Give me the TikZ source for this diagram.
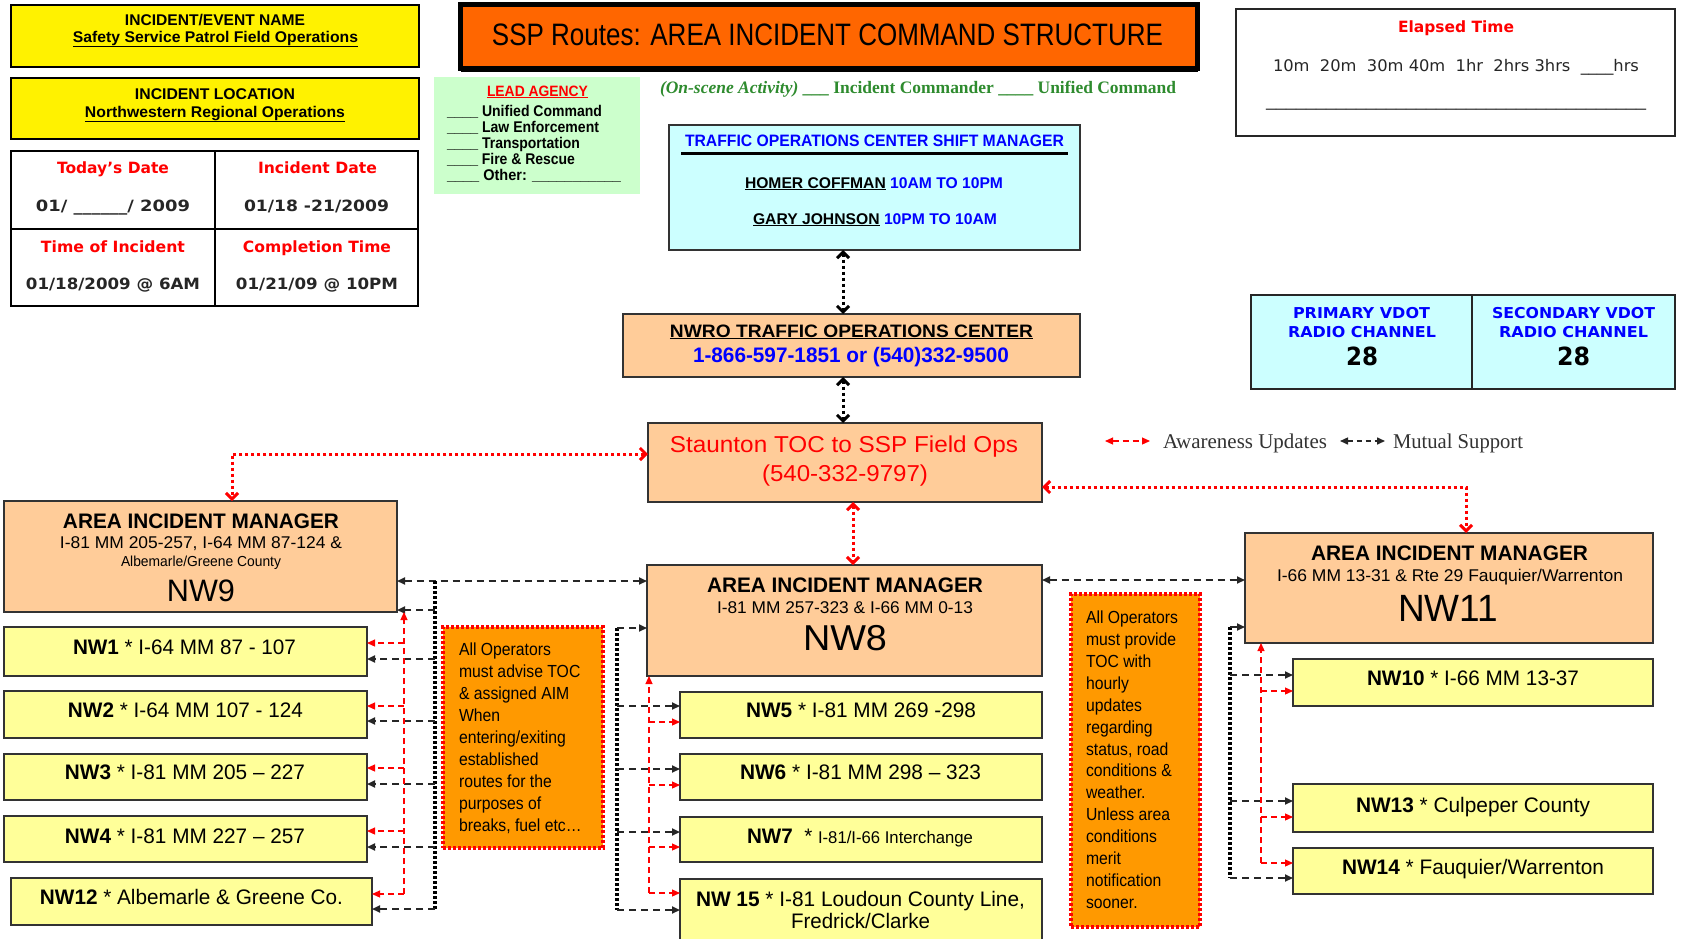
\documentclass[tikz,border=0pt]{standalone}
\usepackage{fontspec}
\usepackage{graphicx}
\setmainfont{Liberation Sans}
\newfontfamily\dvfont{DejaVu Sans}
\newfontfamily\tmsfont{Liberation Serif}
\newfontfamily\narrowfont[FakeStretch=0.9]{Liberation Sans}
\usetikzlibrary{arrows.meta}
\newcommand\fsz[1]{\fontsize{#1}{#1}\selectfont}
\newcommand\fw[2]{\resizebox{#1pt}{\height}{#2}}
\newcommand\nwlabel[6]{\node[lbl] (#1) at (#2,#3) {\fsz{21}\fw{#4}{\textbf{#5} #6}};}
\newcommand\noteline[4]{\node[notetxt] (#1) at (#2,#3) {#4};}
\definecolor{peach}{HTML}{FFCC99}
\definecolor{lyellow}{HTML}{FFFF99}
\definecolor{cyanbox}{HTML}{CCFFFF}
\definecolor{lgreen}{HTML}{CCFFCC}
\definecolor{titleor}{HTML}{FF6600}
\definecolor{noteor}{HTML}{FF9900}
\definecolor{dgreen}{HTML}{2E8B2E}
\definecolor{bgray}{HTML}{333333}
\begin{document}
\begin{tikzpicture}[x=1pt,y=-1pt,
  bx/.style={draw=bgray, line width=1.5pt, inner sep=0pt, outer sep=0pt, rectangle},
  lbl/.style={inner sep=0pt, outer sep=0pt, anchor=base},
  lblw/.style={inner sep=0pt, outer sep=0pt, anchor=base west},
  mline/.style={draw=black!85, line width=1.8pt, dash pattern=on 7pt off 5pt},
  aline/.style={draw=red, line width=1.2pt, dash pattern=on 6pt off 4pt},
  tri/.style={-{Triangle[length=8pt,width=7pt]}},
  tri2/.style={{Triangle[length=8pt,width=7pt]}-{Triangle[length=8pt,width=7pt]}},
  spine/.style={draw=black, line width=4pt, dash pattern=on 3pt off 2pt},
  reddot/.style={draw=red, line width=3pt, dash pattern=on 3pt off 3pt, {Straight Barb[length=6pt,width=12pt]}-{Straight Barb[length=6pt,width=12pt]}},
  blkdot/.style={draw=black, line width=3pt, dash pattern=on 3pt off 3pt, {Straight Barb[length=6pt,width=12pt]}-{Straight Barb[length=6pt,width=12pt]}},
  notebox/.style={draw=red, line width=4pt, dash pattern=on 3pt off 2pt, fill=noteor, inner sep=0pt, outer sep=0pt, rectangle},
  notetxt/.style={inner sep=0pt, outer sep=0pt, anchor=base west, font=\narrowfont\fsz{17.5}}
]
\useasboundingbox (0,0) rectangle (1681,938);
\fill[white] (0,0) rectangle (1681,938);

% ---------- top-left info ----------
\node[bx, draw=black, line width=2pt, fill=yellow, minimum width=408, minimum height=62] (evname) at (214.5,36) {};
\node[bx, draw=black, line width=2pt, fill=yellow, minimum width=408, minimum height=61] (evloc) at (214.5,108.7) {};
\node[bx, draw=black, line width=2pt, fill=white, minimum width=407, minimum height=155] (datetab) at (214.5,228.5) {};
\draw[line width=2pt] (datetab.north -| 215,0) -- (datetab.south -| 215,0);
\draw[line width=2pt] (datetab.west |- 0,229) -- (datetab.east |- 0,229);

\node[lbl] (t1) at (215,25) {\fsz{15.5}\bfseries\fw{180}{INCIDENT/EVENT NAME}};
\node[lbl] (t2) at (215.5,42) {\fsz{15.5}\bfseries\fw{285}{\underline{Safety Service Patrol Field Operations}}};
\node[lbl] (t3) at (215,99) {\fsz{15.5}\bfseries\fw{160}{INCIDENT LOCATION}};
\node[lbl] (t4) at (215,117) {\fsz{15.5}\bfseries\fw{260}{\underline{Northwestern Regional Operations}}};

\node[lbl,text=red] (d1) at (113,173) {\dvfont\fsz{15.5}\bfseries\fw{112}{Today’s Date}};
\node[lbl,text=red] (d2) at (317.5,173) {\dvfont\fsz{15.5}\bfseries\fw{119}{Incident Date}};
\node[lbl,text=black!85] (d3) at (113,211) {\dvfont\fsz{15.5}\bfseries\fw{154}{01/ \_\_\_\_\_\_/ 2009}};
\node[lbl,text=black!85] (d4) at (316.5,211) {\dvfont\fsz{15.5}\bfseries\fw{145}{01/18 -21/2009}};
\node[lbl,text=red] (d5) at (113,252) {\dvfont\fsz{15.5}\bfseries\fw{144}{Time of Incident}};
\node[lbl,text=red] (d6) at (317,252) {\dvfont\fsz{15.5}\bfseries\fw{148}{Completion Time}};
\node[lbl,text=black!85] (d7) at (113,289) {\dvfont\fsz{15.5}\bfseries\fw{174}{01/18/2009 @ 6AM}};
\node[lbl,text=black!85] (d8) at (317,289) {\dvfont\fsz{15.5}\bfseries\fw{162}{01/21/09 @ 10PM}};

% ---------- title ----------
\node[bx, draw=black, line width=5pt, fill=titleor, minimum width=737, minimum height=64] (title) at (829,36.5) {};
\draw[line width=3pt] (title.south west) ++(0,2) -- ([yshift=-2pt]title.south east);
\node[lbl] (titletxt) at (827.5,45.5) {\fsz{31}\fw{671}{SSP Routes: AREA INCIDENT COMMAND STRUCTURE}};

% ---------- lead agency ----------
\node[rectangle, fill=lgreen, inner sep=0pt, outer sep=0pt, minimum width=206, minimum height=117] (lead) at (537,135.5) {};
\node[lbl,text=red] (la0) at (537.5,96) {\fsz{15}\bfseries\fw{101}{\underline{LEAD AGENCY}}};
\node[lblw] (la1) at (447,116) {\fsz{15.5}\bfseries\fw{155}{\_\_\_\_ Unified Command}};
\node[lblw] (la2) at (447,132) {\fsz{15.5}\bfseries\fw{152}{\_\_\_\_ Law Enforcement}};
\node[lblw] (la3) at (447,148) {\fsz{15.5}\bfseries\fw{133}{\_\_\_\_ Transportation}};
\node[lblw] (la4) at (447,164) {\fsz{15.5}\bfseries\fw{128}{\_\_\_\_ Fire \& Rescue}};
\node[lblw] (la5) at (447,180) {\fsz{15.5}\bfseries\fw{174}{\_\_\_\_ Other: \_\_\_\_\_\_\_\_\_\_\_}};

\node[lblw,text=dgreen] (onscene) at (660,93) {\tmsfont\fsz{17.5}\bfseries\fw{516}{{\itshape (On-scene Activity)} \_\_\_ Incident Commander \_\_\_\_ Unified Command}};

% ---------- TOC shift manager ----------
\node[bx, fill=cyanbox, minimum width=411, minimum height=125] (tocsm) at (874.5,187.5) {};
\node[lbl,text=blue] (ts0) at (874.5,146) {\fsz{16.5}\bfseries\fw{379}{TRAFFIC OPERATIONS CENTER SHIFT MANAGER}};
\draw[line width=2.2pt] (681,153.5) -- (1068,153.5);
\node[lbl] (ts1) at (874,188) {\fsz{15.5}\bfseries\fw{258}{\underline{HOMER COFFMAN} \textcolor{blue}{10AM TO 10PM}}};
\node[lbl] (ts2) at (875,224) {\fsz{15.5}\bfseries\fw{244}{\underline{GARY JOHNSON} \textcolor{blue}{10PM TO 10AM}}};

% ---------- NWRO ----------
\node[bx, fill=peach, minimum width=457, minimum height=63] (nwro) at (851.5,345.5) {};
\node[lbl] (nr1) at (851.5,337) {\fsz{18}\bfseries\fw{363}{\underline{NWRO TRAFFIC OPERATIONS CENTER}}};
\node[lbl,text=blue] (nr2) at (851,362) {\fsz{21}\bfseries\fw{316}{1-866-597-1851 or (540)332-9500}};

% ---------- Staunton ----------
\node[bx, fill=peach, minimum width=394, minimum height=79] (staunton) at (845,462.5) {};
\node[lbl,text=red] (st1) at (844,452) {\fsz{23}\fw{348}{Staunton TOC to SSP Field Ops}};
\node[lbl,text=red] (st2) at (845,481) {\fsz{23}\fw{166}{(540-332-9797)}};

% ---------- elapsed time ----------
\node[bx, draw=black!85, fill=white, minimum width=439, minimum height=127] (elapsed) at (1455.5,72.5) {};
\node[lbl,text=red] (el0) at (1456,32.5) {\dvfont\fsz{15.5}\bfseries\fw{116}{Elapsed Time}};
\node[lbl,text=black!85] (el1) at (1456,71.5) {\dvfont\fsz{16}\fw{366}{10m\ \ 20m\ \ 30m 40m\ \ 1hr\ \ 2hrs 3hrs\ \ \_\_\_\_hrs}};
\node[lbl,text=black!85] (el2) at (1456,106) {\dvfont\fsz{16}\fw{380}{\strut\_\_\_\_\_\_\_\_\_\_\_\_\_\_\_\_\_\_\_\_\_\_\_\_\_\_\_\_\_\_\_\_\_\_\_\_\_\_}};

% ---------- radio ----------
\node[bx, draw=black!85, fill=cyanbox, minimum width=221, minimum height=94] (radio1) at (1361.5,342) {};
\node[bx, draw=black!85, fill=cyanbox, minimum width=203, minimum height=94] (radio2) at (1573.5,342) {};
\node[lbl,text=blue] (r1) at (1361.5,318) {\dvfont\fsz{15}\bfseries\fw{137}{PRIMARY VDOT}};
\node[lbl,text=blue] (r2) at (1362,337) {\dvfont\fsz{15}\bfseries\fw{148}{RADIO CHANNEL}};
\node[lbl] (r3) at (1362,365) {\dvfont\fsz{25}\bfseries\fw{32}{28}};
\node[lbl,text=blue] (r4) at (1573.5,318) {\dvfont\fsz{15}\bfseries\fw{163}{SECONDARY VDOT}};
\node[lbl,text=blue] (r5) at (1573.5,337) {\dvfont\fsz{15}\bfseries\fw{149}{RADIO CHANNEL}};
\node[lbl] (r6) at (1573.5,365) {\dvfont\fsz{25}\bfseries\fw{33}{28}};

% ---------- legend ----------
\coordinate (lg1) at (1105,441); \coordinate (lg2) at (1150,441);
\coordinate (lg3) at (1340,441); \coordinate (lg4) at (1385,441);
\draw[aline,tri2] (lg1) -- (lg2);
\draw[mline,line width=1.5pt,dash pattern=on 5pt off 4pt,tri2] (lg3) -- (lg4);
\node[lblw,text=black!80] (lgA) at (1163,448) {\tmsfont\fsz{21}\fw{164}{Awareness Updates}};
\node[lblw,text=black!80] (lgB) at (1393,448) {\tmsfont\fsz{21}\fw{130}{Mutual Support}};

% ---------- NW9 group ----------
\node[bx, fill=peach, minimum width=393, minimum height=111] (nw9) at (200.5,556.5) {};
\node[lbl] (a9a) at (201,528) {\fsz{21}\bfseries\fw{276}{AREA INCIDENT MANAGER}};
\node[lbl] (a9b) at (201,548) {\fsz{17}\fw{282}{I-81 MM 205-257, I-64 MM 87-124 \&}};
\node[lbl] (a9c) at (201,566) {\fsz{14.5}\fw{160}{Albemarle/Greene County}};
\node[lbl] (a9d) at (201,601) {\fsz{31}\fw{68}{NW9}};

\node[bx, fill=lyellow, minimum width=363, minimum height=49] (nw1) at (185.5,651.5) {};
\node[bx, fill=lyellow, minimum width=363, minimum height=47] (nw2) at (185.5,714.5) {};
\node[bx, fill=lyellow, minimum width=363, minimum height=46] (nw3) at (185.5,777) {};
\node[bx, fill=lyellow, minimum width=363, minimum height=46] (nw4) at (185.5,839) {};
\node[bx, fill=lyellow, minimum width=361, minimum height=47] (nw12) at (191.5,901.5) {};
\nwlabel{l1}{184.5}{654}{223}{NW1}{* I-64 MM 87 - 107}
\nwlabel{l2}{185.5}{717}{235}{NW2}{* I-64 MM 107 - 124}
\nwlabel{l3}{185}{779}{240}{NW3}{* I-81 MM 205 – 227}
\nwlabel{l4}{185}{843}{240}{NW4}{* I-81 MM 227 – 257}
\nwlabel{l12}{191.5}{904}{303}{NW12}{* Albemarle \& Greene Co.}

% ---------- NW8 group ----------
\node[bx, fill=peach, minimum width=395, minimum height=111] (nw8) at (844.5,620.5) {};
\node[lbl] (a8a) at (845,592) {\fsz{21}\bfseries\fw{276}{AREA INCIDENT MANAGER}};
\node[lbl] (a8b) at (845,613) {\fsz{17}\fw{256}{I-81 MM 257-323 \& I-66 MM 0-13}};
\node[lbl] (a8d) at (845,650) {\fsz{36}\fw{84}{NW8}};

\node[bx, fill=lyellow, minimum width=362, minimum height=46] (nw5) at (861,715) {};
\node[bx, fill=lyellow, minimum width=362, minimum height=46] (nw6) at (861,777) {};
\node[bx, fill=lyellow, minimum width=362, minimum height=45] (nw7) at (861,839.5) {};
\node[bx, fill=lyellow, minimum width=362, minimum height=71] (nw15) at (861,914.5) {};
\nwlabel{l5}{861}{717}{230}{NW5}{* I-81 MM 269 -298}
\nwlabel{l6}{860.5}{779}{241}{NW6}{* I-81 MM 298 – 323}
\nwlabel{l7}{860}{843}{226}{NW7}{\ * {\fsz{17}I-81/I-66 Interchange}}
\nwlabel{l15}{860.5}{906}{329}{NW 15}{* I-81 Loudoun County Line,}
\node[lbl] (l15b) at (860.5,928) {\fsz{21}\fw{139}{Fredrick/Clarke}};

% ---------- NW11 group ----------
\node[bx, fill=peach, minimum width=408, minimum height=110] (nw11) at (1449,588) {};
\node[lbl] (a11a) at (1449.5,560) {\fsz{21}\bfseries\fw{277}{AREA INCIDENT MANAGER}};
\node[lbl] (a11b) at (1450,581) {\fsz{17}\fw{346}{I-66 MM 13-31 \& Rte 29 Fauquier/Warrenton}};
\node[lbl] (a11d) at (1448,621) {\fsz{38}\fw{100}{NW11}};

\node[bx, fill=lyellow, minimum width=360, minimum height=47] (nw10) at (1473,682.5) {};
\node[bx, fill=lyellow, minimum width=360, minimum height=48] (nw13) at (1473,808) {};
\node[bx, fill=lyellow, minimum width=360, minimum height=46] (nw14) at (1473,871) {};
\nwlabel{l10}{1473}{685}{212}{NW10}{* I-66 MM 13-37}
\nwlabel{l13}{1473}{812}{234}{NW13}{* Culpeper County}
\nwlabel{l14}{1473}{874}{262}{NW14}{* Fauquier/Warrenton}

% ---------- notes ----------
\node[notebox, minimum width=160, minimum height=221] (noteL) at (523,737.5) {};
\noteline{nl1}{459}{655}{All Operators}
\noteline{nl2}{459}{677.1}{must advise TOC}
\noteline{nl3}{459}{699.2}{\& assigned AIM}
\noteline{nl4}{459}{721.3}{When}
\noteline{nl5}{459}{743.4}{entering/exiting}
\noteline{nl6}{459}{765.5}{established}
\noteline{nl7}{459}{787.6}{routes for the}
\noteline{nl8}{459}{809.7}{purposes of}
\noteline{nl9}{459}{831.8}{breaks, fuel etc\ldots}

\node[notebox, minimum width=129, minimum height=333] (noteR) at (1135.5,760.5) {};
\noteline{nr1}{1086}{623}{All Operators}
\noteline{nr2}{1086}{645}{must provide}
\noteline{nr3}{1086}{667}{TOC with}
\noteline{nr4}{1086}{689}{hourly}
\noteline{nr5}{1086}{711}{updates}
\noteline{nr6}{1086}{733}{regarding}
\noteline{nr7}{1086}{755}{status, road}
\noteline{nr8}{1086}{776.8}{conditions \&}
\noteline{nr9}{1086}{798.8}{weather.}
\noteline{nr10}{1086}{820.7}{Unless area}
\noteline{nr11}{1086}{842.6}{conditions}
\noteline{nr12}{1086}{864.6}{merit}
\noteline{nr13}{1086}{886.6}{notification}
\noteline{nr14}{1086}{908.6}{sooner.}

% ---------- dotted command links ----------
\draw[blkdot] ([xshift=-31.5pt]tocsm.south) -- ([xshift=-8.5pt]nwro.north);
\draw[blkdot] ([xshift=-8.5pt]nwro.south) -- ([xshift=-2pt]staunton.north);
\draw[reddot] ([yshift=8.5pt]staunton.west) -| ([xshift=31.5pt]nw9.north);
\draw[reddot] ([yshift=-24.5pt]staunton.east) -| ([xshift=17pt]nw11.north);
\draw[reddot] ([xshift=8pt]staunton.south) -- ([xshift=8.5pt]nw8.north);

% ---------- manager to manager ----------
\coordinate (ls1) at (435,581); \coordinate (ls2) at (435,909);
\draw[mline,tri2] (nw9.east |- ls1) -- (nw8.west |- ls1);
\draw[mline,tri2] (nw8.east |- 0,580) -- (nw11.west |- 0,580);

% ---------- left group links ----------
\draw[spine] (ls1) -- (ls2);
\draw[mline,tri] (ls1 |- 0,610) -- (nw9.east |- 0,610);
\draw[mline,tri] (ls1 |- 0,659) -- (nw1.east |- 0,659);
\draw[mline,tri] (ls1 |- 0,721) -- (nw2.east |- 0,721);
\draw[mline,tri] (ls1 |- 0,784) -- (nw3.east |- 0,784);
\draw[mline,tri] (ls1 |- 0,847) -- (nw4.east |- 0,847);
\draw[mline,tri] (ls1 |- 0,909) -- (nw12.east |- 0,909);
\coordinate (lr1) at (404,894);
\draw[aline,tri] (lr1) -- ([xshift=7pt]nw9.south east);
\draw[aline,tri] (lr1 |- 0,643) -- (nw1.east |- 0,643);
\draw[aline,tri] (lr1 |- 0,706) -- (nw2.east |- 0,706);
\draw[aline,tri] (lr1 |- 0,768) -- (nw3.east |- 0,768);
\draw[aline,tri] (lr1 |- 0,831) -- (nw4.east |- 0,831);
\draw[aline,tri] (lr1) -- (nw12.east |- lr1);

% ---------- middle group links ----------
\coordinate (ms1) at (617,628); \coordinate (ms2) at (617,910);
\draw[spine] (ms1) -- (ms2);
\draw[mline,tri] (ms1) -- (nw8.west |- ms1);
\draw[mline,tri] (ms1 |- 0,706) -- (nw5.west |- 0,706);
\draw[mline,tri] (ms1 |- 0,769) -- (nw6.west |- 0,769);
\draw[mline,tri] (ms1 |- 0,832) -- (nw7.west |- 0,832);
\draw[mline,tri] (ms2) -- (nw15.west |- ms2);
\coordinate (mr1) at (649,893);
\draw[aline,tri] (mr1) -- (nw8.south -| mr1);
\draw[aline,tri] (mr1 |- 0,722) -- (nw5.west |- 0,722);
\draw[aline,tri] (mr1 |- 0,785) -- (nw6.west |- 0,785);
\draw[aline,tri] (mr1 |- 0,847) -- (nw7.west |- 0,847);
\draw[aline,tri] (mr1) -- (nw15.west |- mr1);

% ---------- right group links ----------
\coordinate (rs1) at (1230,627); \coordinate (rs2) at (1230,878);
\draw[spine] (rs1) -- (rs2);
\draw[mline,tri] (rs1) -- (nw11.west |- rs1);
\draw[mline,tri] (rs1 |- 0,675) -- (nw10.west |- 0,675);
\draw[mline,tri] (rs1 |- 0,801) -- (nw13.west |- 0,801);
\draw[mline,tri] (rs2) -- (nw14.west |- rs2);
\coordinate (rr1) at (1261,863);
\draw[aline,tri] (rr1) -- (nw11.south -| rr1);
\draw[aline,tri] (rr1 |- 0,691) -- (nw10.west |- 0,691);
\draw[aline,tri] (rr1 |- 0,817) -- (nw13.west |- 0,817);
\draw[aline,tri] (rr1) -- (nw14.west |- rr1);
\end{tikzpicture}
\end{document}
